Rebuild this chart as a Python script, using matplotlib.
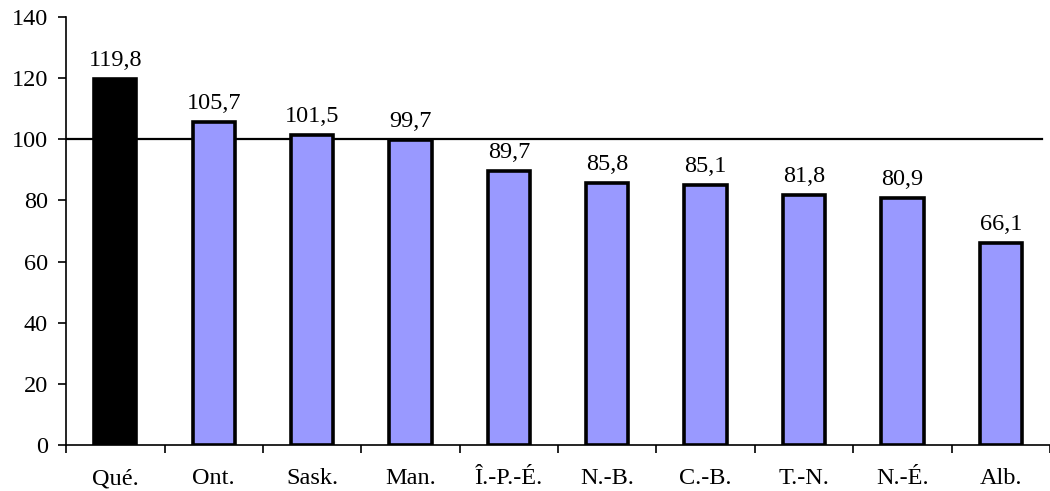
import numpy as np
import matplotlib
matplotlib.use("Agg")
import matplotlib.pyplot as plt
from matplotlib.ticker import FixedLocator

# --- Data ---
provinces = ["Qué.", "Ont.", "Sask.", "Man.", "Î.-P.-É.", "N.-B.", "C.-B.", "T.-N.", "N.-É.", "Alb."]
values = [119.8, 105.7, 101.5, 99.7, 89.7, 85.8, 85.1, 81.8, 80.9, 66.1]
reference_level = 100

# --- Style ---
plt.rcParams['font.family'] = ['Liberation Serif', 'DejaVu Serif']
FONT_SIZE = 17.5
colors = ['black'] + ['#9999ff'] * (len(provinces) - 1)

fig = plt.figure(figsize=(10.5, 4.91), dpi=100)
ax = fig.add_axes([0.063, 0.094, 0.937, 0.871])

x = np.arange(len(provinces))
ax.bar(x, values, width=0.43, color=colors, edgecolor='black', linewidth=2.6, zorder=3)

# horizontal reference line at 100
ax.axhline(reference_level, xmax=0.992, color='black', linewidth=1.6, zorder=2)

# value labels
for xi, v in zip(x, values):
    ax.text(xi, v + 4.2, f"{v:.1f}".replace('.', ','), ha='center', va='baseline',
            fontsize=FONT_SIZE)

ax.set_xlim(-0.5, len(provinces) - 0.5)
ax.set_ylim(0, 140)
ax.set_yticks(np.arange(0, 141, 20))
ax.tick_params(axis='y', labelsize=FONT_SIZE, direction='out', length=6, width=1.2, pad=7)

# category labels centered, tick marks at boundaries
ax.set_xticks(x)
ax.set_xticklabels(provinces, fontsize=FONT_SIZE)
ax.tick_params(axis='x', which='major', length=0, pad=17)
ax.xaxis.set_minor_locator(FixedLocator(np.arange(-0.5, len(provinces), 1.0)))
ax.tick_params(axis='x', which='minor', direction='out', length=6, width=1.2)

for side in ['top', 'right']:
    ax.spines[side].set_visible(False)
for side in ['left', 'bottom']:
    ax.spines[side].set_linewidth(1.2)

fig.savefig("out.png", dpi=100)
